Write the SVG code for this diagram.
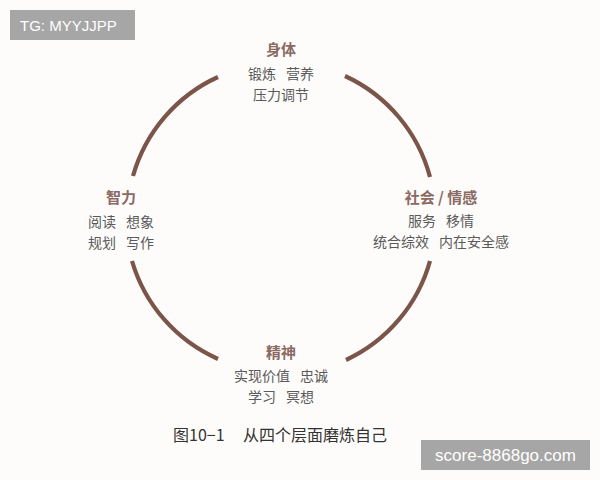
<svg xmlns="http://www.w3.org/2000/svg" width="600" height="480" viewBox="0 0 600 480">
<style>
.bg{fill:#fdfcfa}
.arc{fill:none;stroke:#7b5549;stroke-width:4.2}
.t{font-family:"Noto Sans CJK SC","Noto Sans",sans-serif;font-size:15px;font-weight:bold;fill:#8a6a63;text-anchor:middle;dominant-baseline:central}
.b{font-family:"Noto Sans CJK SC","Noto Sans",sans-serif;font-size:14px;fill:#5a5a5a;text-anchor:middle;dominant-baseline:central}
.cap{font-family:"Noto Sans CJK SC","Noto Sans",sans-serif;font-size:16px;fill:#333;dominant-baseline:central}
.wm{fill:#a6a6a6}
.wt{font-family:"Liberation Sans",Arial,sans-serif;fill:#fff;dominant-baseline:central}
</style>
<rect class="bg" x="0" y="0" width="600" height="480"/>
<g id="connectors">
<path class="arc" d="M133,176 A155,155 0 0 1 218,77"/>
<path class="arc" d="M345,76 A155,155 0 0 1 430,177"/>
<path class="arc" d="M430,261 A155,155 0 0 1 346,360"/>
<path class="arc" d="M218,359 A155,155 0 0 1 132,261"/>
</g>
<g id="body">
<text class="t" x="281" y="48">身体</text>
<text class="b" x="281" y="73">锻炼&#x2002; 营养</text>
<text class="b" x="281" y="94">压力调节</text>
</g>
<g id="intellect">
<text class="t" x="121" y="196">智力</text>
<text class="b" x="121" y="221">阅读&#x2002; 想象</text>
<text class="b" x="121" y="242">规划&#x2002; 写作</text>
</g>
<g id="social">
<text class="t" x="441" y="196">社会 / 情感</text>
<text class="b" x="441" y="220">服务&#x2002; 移情</text>
<text class="b" x="441" y="241">统合综效&#x2002; 内在安全感</text>
</g>
<g id="spirit">
<text class="t" x="281" y="351">精神</text>
<text class="b" x="281" y="375">实现价值&#x2002; 忠诚</text>
<text class="b" x="281" y="396">学习&#x2002; 冥想</text>
</g>
<g id="caption">
<text class="cap" x="173" y="434">图10−1</text>
<text class="cap" x="243" y="434">从四个层面磨炼自己</text>
</g>
<rect class="wm" x="10" y="10" width="125" height="30"/>
<text class="wt" x="20" y="25" font-size="15">TG: MYYJJPP</text>
<rect class="wm" x="421" y="440" width="169" height="30"/>
<text class="wt" x="505.5" y="455" font-size="17" text-anchor="middle">score-8868go.com</text>
</svg>
